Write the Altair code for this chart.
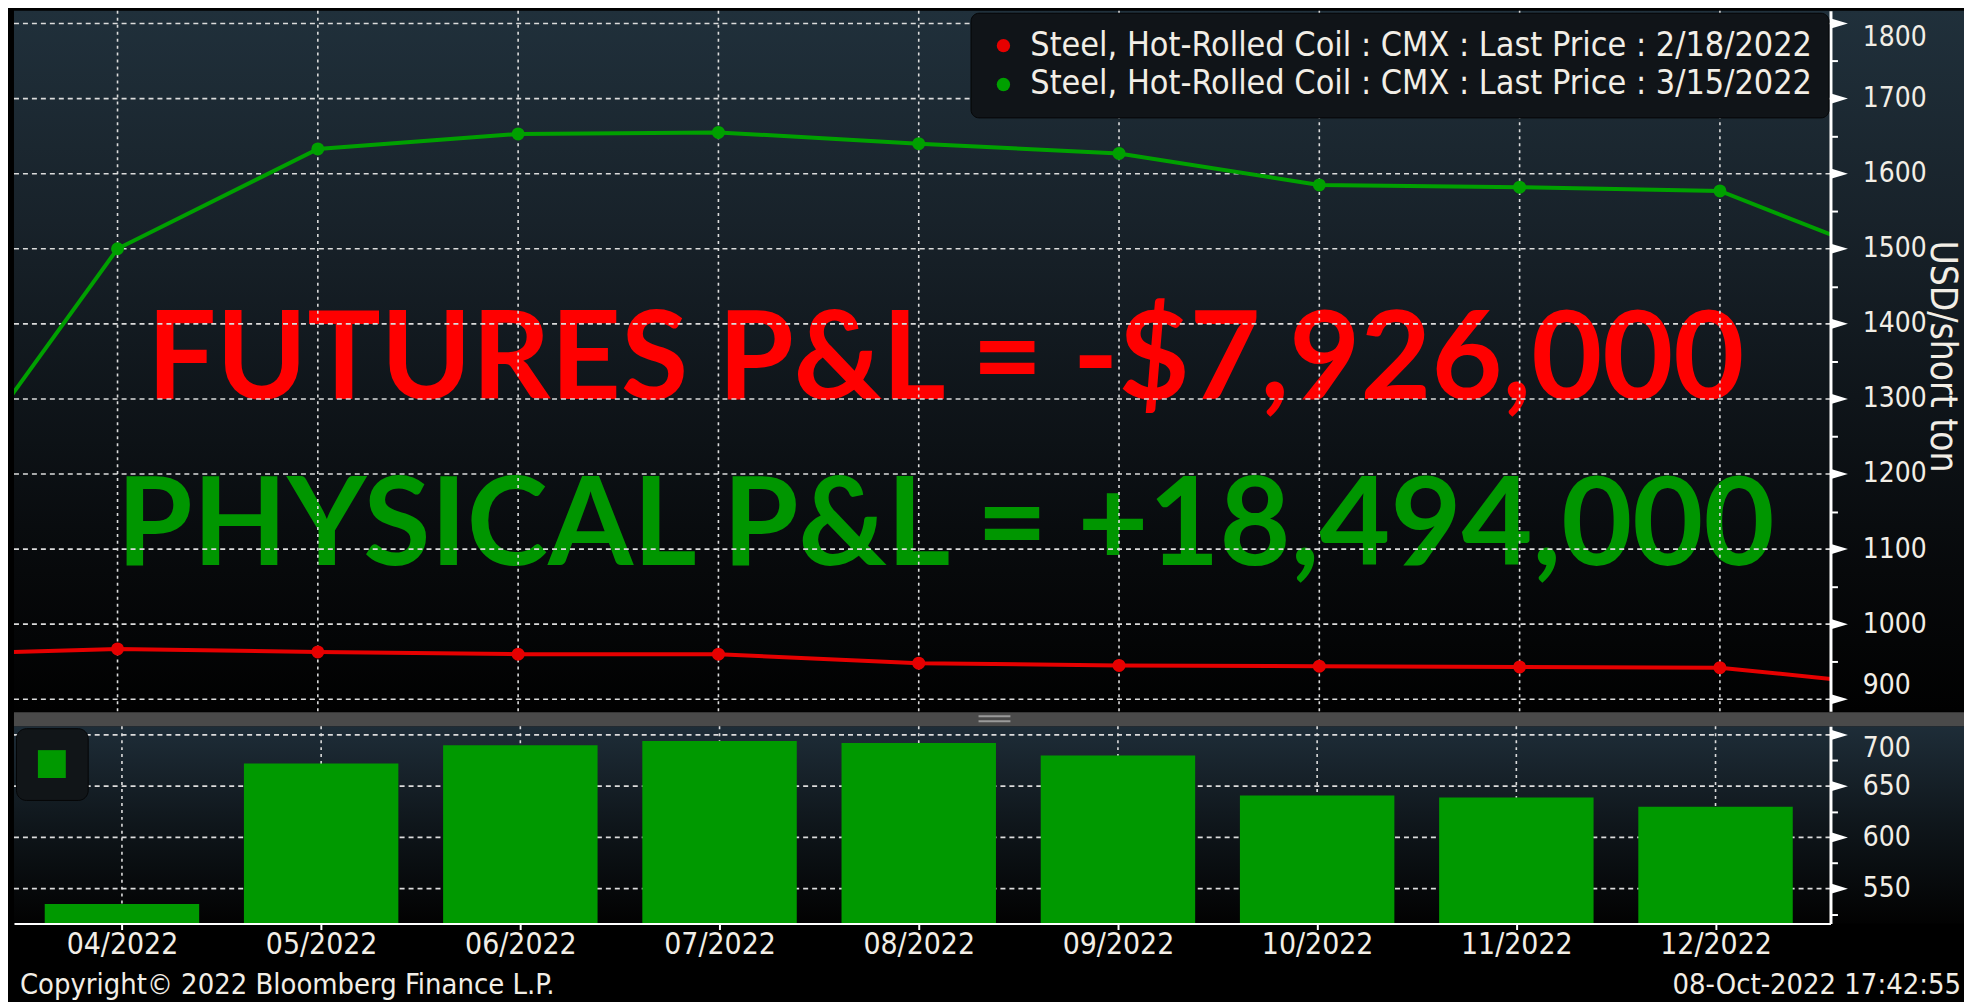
import json
import altair as alt
import pandas as pd

# ---------------- data ----------------
MONTHS = ["03/2022", "04/2022", "05/2022", "06/2022", "07/2022", "08/2022",
          "09/2022", "10/2022", "11/2022", "12/2022", "01/2023"]
MONTH_POS = [0, 1, 2, 3, 4, 5, 6, 7, 8, 9, 10]
VISIBLE_POS = [1, 2, 3, 4, 5, 6, 7, 8, 9]

SERIES = ["Steel, Hot-Rolled Coil : CMX : Last Price : 2/18/2022",
          "Steel, Hot-Rolled Coil : CMX : Last Price : 3/15/2022"]
PRICE_FEB18 = [959, 967, 963, 960, 960, 948, 945, 944, 943, 942, 915]
PRICE_MAR15 = [1131, 1500, 1633, 1653, 1655, 1640, 1627, 1585, 1582, 1577, 1472]

BAR_SERIES = ["Spread"]
BAR_POS = [1, 2, 3, 4, 5, 6, 7, 8, 9]
BAR_VALUES = [535, 672, 690, 694, 692, 680, 641, 639, 630]

Y_TOP_LABELS = [900, 1000, 1100, 1200, 1300, 1400, 1500, 1600, 1700, 1800]
Y_TOP_TICKS = [900, 950, 1000, 1050, 1100, 1150, 1200, 1250, 1300, 1350, 1400,
               1450, 1500, 1550, 1600, 1650, 1700, 1750, 1800]
Y_BOT_LABELS = [550, 600, 650, 700]
Y_BOT_TICKS = [525, 550, 575, 600, 625, 650, 675, 700]
Y_TITLE = "USD/short ton"

FUTURES_TEXT = "FUTURES P&L = -$7,926,000"
PHYSICAL_TEXT = "PHYSICAL P&L = +18,494,000"
FOOTER_LEFT = "Copyright\u00a9 2022 Bloomberg Finance L.P."
FOOTER_RIGHT = "08-Oct-2022 17:42:55"

# ---------------- layout / style ----------------
W, H1, H2 = 1823, 703, 198
RIGHT_EXT = 134
X_DOMAIN = [0.483, 9.552]
YTOP_DOMAIN = [884, 1817]
YBOT_DOMAIN = [516, 708.5]

FONT = "DejaVu Sans Condensed, DejaVu Sans"
BIG_FONT = "Lato"
RED = "#e60000"
GREEN_LINE = "#00a000"
GREEN_BAR = "#009900"
TXT = "#f2eee6"
GRID = "#dcdcdc"

lines_df = pd.DataFrame({
    "pos": MONTH_POS * 2,
    "price": PRICE_FEB18 + PRICE_MAR15,
    "series": [SERIES[0]] * len(MONTH_POS) + [SERIES[1]] * len(MONTH_POS),
})
bars_df = pd.DataFrame({"pos": BAR_POS, "spread": BAR_VALUES,
                        "name": BAR_SERIES * len(BAR_POS)})
one = pd.DataFrame({"a": [0]})

x_scale = alt.Scale(domain=X_DOMAIN, nice=False, zero=False)
ytop_scale = alt.Scale(domain=YTOP_DOMAIN, nice=False, zero=False)
ybot_scale = alt.Scale(domain=YBOT_DOMAIN, nice=False, zero=False)


def y_axis(values, step):
    return alt.Axis(
        orient="right", values=values, format="d",
        labelExpr=f"datum.value % {step} === 0 ? datum.label : ''",
        tickSize=7, tickColor="white", tickWidth=2,
        domainColor="white", domainWidth=3,
        labelColor=TXT, labelFont=FONT, labelFontSize=28, labelPadding=25,
        labelOverlap=False, labelFlush=15, grid=False, title=None, zindex=2,
    )


ytop_axis = y_axis(Y_TOP_TICKS, 100)
ybot_axis = y_axis(Y_BOT_TICKS, 50)

x_bot_axis = alt.Axis(
    values=VISIBLE_POS,
    labelExpr=json.dumps(MONTHS) + "[datum.value]",
    tickSize=6, tickColor="white", tickWidth=2,
    domainColor="white", domainWidth=2,
    labelColor=TXT, labelFont=FONT, labelFontSize=30, labelPadding=0,
    labelFlush=False, labelOverlap=False, grid=False, title=None, zindex=2,
)


def gradient(stops):
    return alt.LinearGradient(
        gradient="linear",
        stops=[alt.GradientStop(color=c, offset=o) for o, c in stops],
        x1=0, x2=0, y1=0, y2=1,
    )


TRI = "M-1,-0.6L1,0L-1,0.6Z"

# ---------------- top panel ----------------
bg_top = alt.Chart(one).mark_rect(
    color=gradient([(0, "#20303b"), (0.3, "#18222a"), (0.55, "#0f151a"),
                    (0.8, "#07090b"), (1, "#010101")])
).encode(x=alt.value(0), x2=alt.value(W + RIGHT_EXT), y=alt.value(0), y2=alt.value(H1))

futures_txt = alt.Chart(one).mark_text(
    text=FUTURES_TEXT, font=BIG_FONT, fontWeight="bold", fontSize=123,
    color="#ff0000", align="center", baseline="alphabetic"
).encode(x=alt.value(935), y=alt.value(390))

physical_txt = alt.Chart(one).mark_text(
    text=PHYSICAL_TEXT, font=BIG_FONT, fontWeight="bold", fontSize=123,
    color="#009600", align="center", baseline="alphabetic"
).encode(x=alt.value(935), y=alt.value(556))

grid_y_top = alt.Chart(pd.DataFrame({"tick": Y_TOP_LABELS})).mark_rule(
    color=GRID, strokeWidth=1.6, strokeDash=[5, 4]
).encode(y=alt.Y("tick:Q", scale=ytop_scale, axis=ytop_axis))

grid_x_top = alt.Chart(pd.DataFrame({"pos": VISIBLE_POS})).mark_rule(
    color=GRID, strokeWidth=1.6, strokeDash=[3, 4]
).encode(x=alt.X("pos:Q", scale=x_scale, axis=None))

line_red = alt.Chart(lines_df).transform_filter(
    alt.datum.series == SERIES[0]
).mark_line(strokeWidth=4, clip=True, color=RED).encode(
    x=alt.X("pos:Q", scale=x_scale, axis=None),
    y=alt.Y("price:Q", scale=ytop_scale, axis=ytop_axis),
    order="pos:Q",
)
line_green = alt.Chart(lines_df).transform_filter(
    alt.datum.series == SERIES[1]
).mark_line(strokeWidth=4, clip=True, color=GREEN_LINE).encode(
    x=alt.X("pos:Q", scale=x_scale, axis=None),
    y=alt.Y("price:Q", scale=ytop_scale, axis=ytop_axis),
    order="pos:Q",
)

top_legend = alt.Legend(
    title=None, orient="top-right", offset=2, zindex=3,
    fillColor="#101418", strokeColor="#050607", cornerRadius=8,
    padding=16, rowPadding=5, labelOffset=10,
    labelColor=TXT, labelFont=FONT, labelFontSize=34, labelLimit=1200,
    symbolType="circle", symbolSize=180, symbolStrokeWidth=0,
)

points = alt.Chart(lines_df).mark_circle(size=170, opacity=1, clip=True).encode(
    x=alt.X("pos:Q", scale=x_scale, axis=None),
    y=alt.Y("price:Q", scale=ytop_scale, axis=ytop_axis),
    color=alt.Color("series:N", scale=alt.Scale(domain=SERIES, range=[RED, GREEN_LINE]),
                    legend=top_legend),
)

tri_top = alt.Chart(pd.DataFrame({"tick": Y_TOP_LABELS})).mark_point(
    shape=TRI, filled=True, color="white", size=289, opacity=1
).encode(x=alt.value(W + 9), y=alt.Y("tick:Q", scale=ytop_scale, axis=ytop_axis))

y_title = alt.Chart(one).mark_text(
    text=Y_TITLE, angle=90, font=FONT, fontSize=37, color=TXT,
    align="center", baseline="middle"
).encode(x=alt.value(W + 112), y=alt.value(347))

top = alt.layer(
    bg_top, futures_txt, physical_txt, grid_y_top, grid_x_top,
    line_red, line_green, points, tri_top, y_title
).properties(width=W, height=H1)

# ---------------- bottom panel ----------------
bg_bot = alt.Chart(one).mark_rect(
    color=gradient([(0, "#1e2d38"), (0.5, "#0f161b"), (1, "#020202")])
).encode(x=alt.value(0), x2=alt.value(W + RIGHT_EXT), y=alt.value(0), y2=alt.value(H2))

separator = alt.Chart(one).mark_rect(color="#4a4a4a").encode(
    x=alt.value(0), x2=alt.value(W + RIGHT_EXT), y=alt.value(-14), y2=alt.value(0))

grip1 = alt.Chart(one).mark_rule(color="#9a9a9a", strokeWidth=2).encode(
    x=alt.value(968), x2=alt.value(1000), y=alt.value(-10))
grip2 = alt.Chart(one).mark_rule(color="#9a9a9a", strokeWidth=2).encode(
    x=alt.value(968), x2=alt.value(1000), y=alt.value(-5))

grid_y_bot = alt.Chart(pd.DataFrame({"tick": Y_BOT_LABELS})).mark_rule(
    color=GRID, strokeWidth=1.6, strokeDash=[5, 4]
).encode(y=alt.Y("tick:Q", scale=ybot_scale, axis=ybot_axis))

grid_x_bot = alt.Chart(pd.DataFrame({"pos": VISIBLE_POS})).mark_rule(
    color=GRID, strokeWidth=1.6, strokeDash=[3, 4]
).encode(x=alt.X("pos:Q", scale=x_scale, axis=x_bot_axis))

bot_legend = alt.Legend(
    title=None, orient="top-left", offset=2, zindex=3,
    fillColor="#111518", strokeColor="#050607", cornerRadius=10,
    padding=22, labelExpr="''", labelOffset=0,
    symbolType="square", symbolSize=784, symbolStrokeWidth=0,
)

bars = alt.Chart(bars_df).mark_bar(size=155, clip=True).encode(
    x=alt.X("pos:Q", scale=x_scale, axis=x_bot_axis),
    y=alt.Y("spread:Q", scale=ybot_scale, axis=ybot_axis),
    color=alt.Color("name:N", scale=alt.Scale(domain=BAR_SERIES, range=[GREEN_BAR]),
                    legend=bot_legend),
)

tri_bot = alt.Chart(pd.DataFrame({"tick": Y_BOT_LABELS})).mark_point(
    shape=TRI, filled=True, color="white", size=289, opacity=1
).encode(x=alt.value(W + 9), y=alt.Y("tick:Q", scale=ybot_scale, axis=ybot_axis))

footer_l = alt.Chart(one).mark_text(
    text=FOOTER_LEFT, font=FONT, fontSize=29, color=TXT, align="left", baseline="middle"
).encode(x=alt.value(6), y=alt.value(260))
footer_r = alt.Chart(one).mark_text(
    text=FOOTER_RIGHT, font=FONT, fontSize=29, color=TXT, align="right", baseline="middle"
).encode(x=alt.value(W + 131), y=alt.value(260))

bottom = alt.layer(
    bg_bot, separator, grip1, grip2, grid_y_bot, grid_x_bot, bars, tri_bot,
    footer_l, footer_r
).properties(width=W, height=H2)

chart = alt.vconcat(top, bottom, spacing=0).resolve_scale(
    color="independent"
).resolve_legend(
    color="independent"
).configure(
    background="#000000",
    padding={"left": 5, "top": 0, "right": 0, "bottom": 0},
).configure_view(stroke=None)

chart.save("out.html", embed_options={"renderer": "svg", "actions": False})
